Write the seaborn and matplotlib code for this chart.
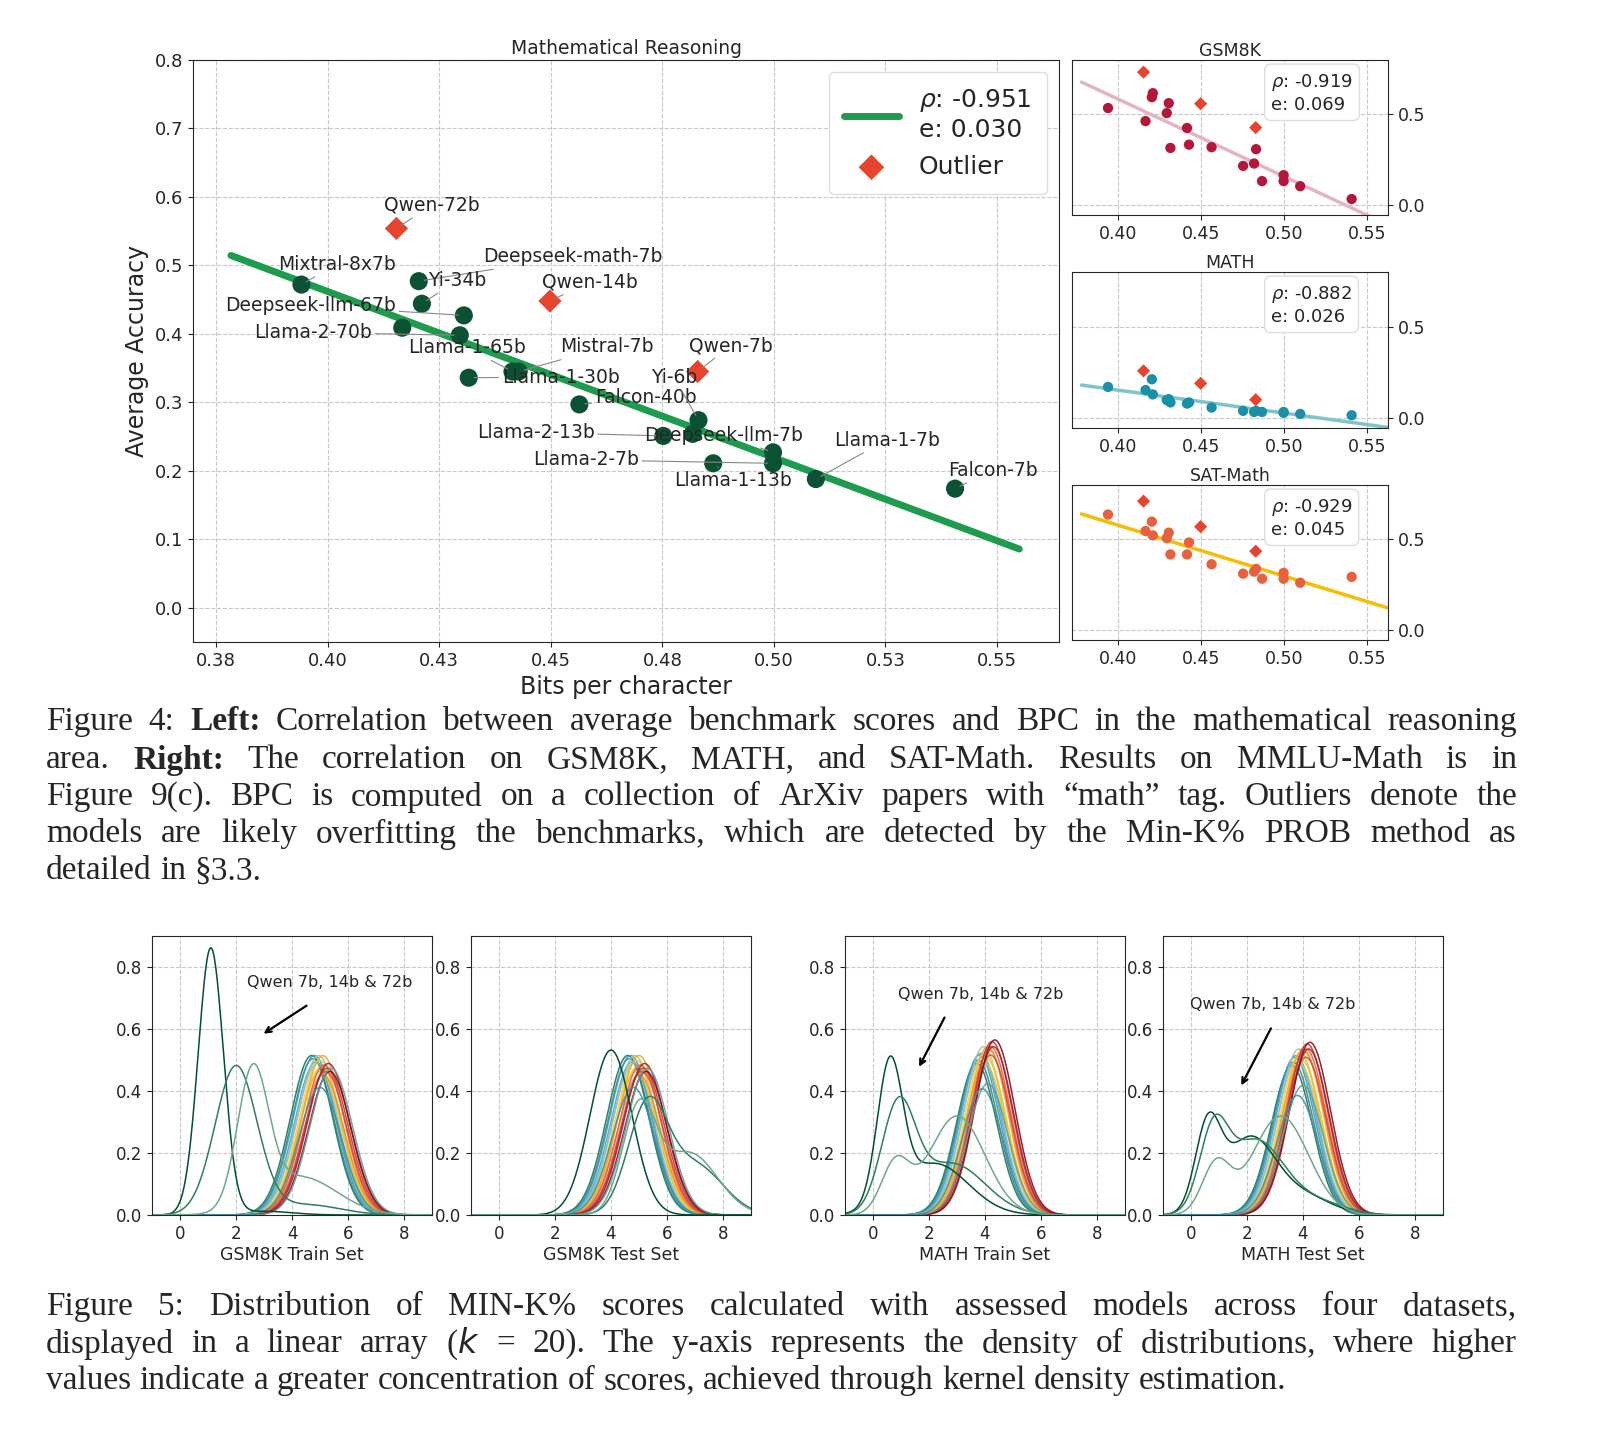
import numpy as np
import pandas as pd
import matplotlib
matplotlib.use('Agg')
import matplotlib.pyplot as plt
import seaborn as sns

sns.set_style('ticks')
plt.rcParams['font.family'] = ['DejaVu Sans']

# ---- main scatter (mathematical reasoning) ----
bpc = [0.3941, 0.4204, 0.4211, 0.4305, 0.4167, 0.4296, 0.4316, 0.4414, 0.4428,
       0.4564, 0.4831, 0.4818, 0.4752, 0.4998, 0.4998, 0.4864, 0.5094, 0.5406]
acc = [0.472, 0.477, 0.444, 0.427, 0.409, 0.398, 0.336, 0.345, 0.345,
       0.297, 0.274, 0.254, 0.251, 0.227, 0.211, 0.211, 0.188, 0.174]
names = ['Mixtral-8x7b', 'Deepseek-math-7b', 'Yi-34b', 'Deepseek-llm-67b', '', 'Llama-2-70b',
         'Llama-1-30b', 'Llama-1-65b', 'Mistral-7b', 'Falcon-40b', 'Yi-6b', '', 'Llama-2-13b',
         'Deepseek-llm-7b', 'Llama-2-7b', 'Llama-1-13b', 'Llama-1-7b', 'Falcon-7b']
label_x = [0.3888, 0.4349, 0.4224, 0.3770, 0, 0.3835, 0.4390, 0.4180, 0.4520,
           0.4599, 0.4724, 0, 0.4334, 0.4710, 0.4460, 0.4776, 0.5134, 0.5390]
label_y = [0.502, 0.513, 0.478, 0.441, 0, 0.402, 0.337, 0.380, 0.381,
           0.307, 0.337, 0, 0.256, 0.252, 0.216, 0.186, 0.245, 0.201]
out_bpc = [0.4154, 0.4498, 0.4829]
out_acc = [0.554, 0.448, 0.345]
out_names = ['Qwen-72b', 'Qwen-14b', 'Qwen-7b']
out_lx = [0.4125, 0.4480, 0.4810]
out_ly = [0.588, 0.476, 0.383]

# ---- right panels ----
sub_bpc = [0.394, 0.4166, 0.4204, 0.421, 0.4306, 0.4294, 0.4316, 0.4416, 0.4428,
           0.4564, 0.4754, 0.482, 0.4832, 0.4868, 0.4998, 0.4998, 0.5098, 0.5408]
sub_out_bpc = [0.4154, 0.4498, 0.483]
gsm_acc = [0.535, 0.463, 0.595, 0.617, 0.562, 0.507, 0.315, 0.425, 0.333,
           0.319, 0.216, 0.229, 0.308, 0.132, 0.165, 0.132, 0.104, 0.033]
gsm_out = [0.733, 0.559, 0.427]
math_acc = [0.170, 0.153, 0.212, 0.129, 0.103, 0.098, 0.085, 0.079, 0.085,
            0.057, 0.039, 0.033, 0.039, 0.033, 0.033, 0.028, 0.022, 0.015]
math_out = [0.258, 0.190, 0.100]
sat_acc = [0.637, 0.546, 0.598, 0.522, 0.537, 0.507, 0.417, 0.417, 0.483,
           0.363, 0.311, 0.322, 0.337, 0.283, 0.315, 0.283, 0.261, 0.293]
sat_out = [0.711, 0.570, 0.435]
sub_titles = ['GSM8K', 'MATH', 'SAT-Math']
sub_rho = ['-0.919', '-0.882', '-0.929']
sub_err = ['0.069', '0.026', '0.045']
sub_dot = ['#b5173a', '#1a8fa8', '#e8613f']
sub_line = ['#e3b5c4', '#7fc4c9', '#f7bd00']

# ---- bottom KDE panels: per curve gaussian components (mean, sd, weight) ----
kde_titles = ['GSM8K Train Set', 'GSM8K Test Set', 'MATH Train Set', 'MATH Test Set']
cluster_means = [
    [4.7, 4.75, 4.8, 4.85, 4.9, 4.95, 5.0, 5.0, 5.05, 5.1, 5.1, 5.15, 5.2, 5.25, 5.3, 5.35, 5.4, 5.0],
    [4.6, 4.65, 4.7, 4.75, 4.8, 4.85, 4.9, 4.9, 4.95, 5.0, 5.0, 5.05, 5.1, 5.15, 5.2, 5.25, 5.3, 4.8],
    [3.7, 3.75, 3.8, 3.85, 3.9, 3.95, 4.0, 4.0, 4.05, 4.1, 4.15, 4.2, 4.2, 4.25, 4.3, 4.35, 4.1, 3.9],
    [3.6, 3.65, 3.7, 3.75, 3.8, 3.85, 3.9, 3.9, 3.95, 4.0, 4.05, 4.1, 4.1, 4.15, 4.2, 4.25, 4.0, 3.8],
]
cluster_sd = [0.76, 0.76, 0.72, 0.73]
cluster_peak_scale = [
    [1.0, 0.98, 1.0, 0.96, 0.95, 1.0, 0.9, 0.97, 0.93, 1.0, 0.88, 0.94, 0.9, 0.92, 0.95, 0.9, 0.92, 0.8],
    [1.0, 0.98, 1.0, 0.96, 0.95, 1.0, 0.9, 0.97, 0.93, 1.0, 0.88, 0.94, 0.9, 0.92, 0.95, 0.9, 0.92, 0.8],
    [0.9, 0.92, 0.95, 0.96, 0.94, 1.0, 0.9, 0.97, 0.93, 1.0, 0.98, 1.0, 0.95, 1.03, 1.0, 1.04, 0.78, 0.75],
    [0.9, 0.92, 0.95, 0.96, 0.94, 1.0, 0.9, 0.97, 0.93, 1.0, 0.98, 1.0, 0.95, 1.03, 1.0, 1.04, 0.78, 0.72],
]
qwen_comps = [
    [[(1.1, 0.45, 0.97), (3.0, 1.0, 0.03)],
     [(2.0, 0.75, 0.9), (4.5, 1.2, 0.1)],
     [(2.6, 0.55, 0.6), (4.3, 1.3, 0.4)]],
    [[(4.0, 0.75, 1.0)],
     [(5.3, 0.7, 0.6), (7.0, 1.0, 0.4)],
     [(5.0, 0.6, 0.5), (6.8, 1.0, 0.5)]],
    [[(0.6, 0.45, 0.5), (2.2, 1.2, 0.5)],
     [(0.9, 0.6, 0.5), (2.8, 1.2, 0.5)],
     [(0.8, 0.5, 0.2), (3.0, 1.0, 0.8)]],
    [[(0.6, 0.45, 0.3), (2.1, 0.9, 0.55), (4.0, 1.0, 0.15)],
     [(0.8, 0.5, 0.3), (2.3, 1.0, 0.6), (4.5, 1.0, 0.1)],
     [(0.9, 0.5, 0.2), (3.2, 1.0, 0.8)]],
]
qwen_colors = ['#00512f', '#2f7f5f', '#6fa88e']
arrow_text_xy = [(2.4, 0.75), None, (0.9, 0.71), (-0.04, 0.68)]
arrow_tail = [(4.6, 0.68), None, (2.6, 0.645), (2.9, 0.61)]
arrow_head = [(2.9, 0.58), None, (1.6, 0.47), (1.75, 0.41)]

cluster_colors = ['#1f6f5c', '#2b8a7e', '#3a9bb0', '#4aa3c8', '#7ab8d0', '#96c2c9',
                  '#d9c64a', '#f0d040', '#f5c023', '#f5a623', '#ee8a35', '#e8613f',
                  '#d94a3a', '#c0392b', '#a8202e', '#8b0a1a', '#5f9ea0', '#3f8fa0']

W, H = 1598, 1446
fig = plt.figure(figsize=(W / 100, H / 100), dpi=100)


def rect(l, t, r, b):
    return [l / W, 1 - b / H, (r - l) / W, (b - t) / H]


# main plot
ax = fig.add_axes(rect(193, 60, 1059, 642))
df = pd.DataFrame({'bpc': bpc, 'acc': acc})
coef = np.polyfit(bpc, acc, 1)
fit_x = np.array([0.3783, 0.5550])
sns.lineplot(x=fit_x, y=np.polyval(coef, fit_x), ax=ax, color='#1e9c4e', lw=5,
             label='$\\rho$: -0.951\ne: 0.030', zorder=2)
sns.scatterplot(data=df, x='bpc', y='acc', ax=ax, color='#0b5234', s=170, edgecolor='none', zorder=3)
sns.scatterplot(x=out_bpc, y=out_acc, ax=ax, color='#e8432d', marker='D', s=140,
                edgecolor='none', label='Outlier', zorder=3)
for n, x0, y0, tx, ty in zip(names + out_names, bpc + out_bpc, acc + out_acc,
                             label_x + out_lx, label_y + out_ly):
    if not n:
        continue
    ax.annotate(n, xy=(x0, y0), xytext=(tx, ty), fontsize=13.5, va='center', ha='left',
                arrowprops=dict(arrowstyle='-', color='#888888', lw=0.8, shrinkA=0, shrinkB=4))
ax.set_xlim(0.3698, 0.5639)
ax.set_ylim(-0.05, 0.8)
ax.set_xticks([0.375, 0.4, 0.425, 0.45, 0.475, 0.5, 0.525, 0.55])
ax.set_xticklabels(['0.38', '0.40', '0.43', '0.45', '0.48', '0.50', '0.53', '0.55'])
ax.set_yticks(np.arange(0, 0.81, 0.1))
ax.tick_params(labelsize=13)
ax.grid(ls='--', color='#c8c8c8', lw=0.8)
ax.set_xlabel('Bits per character', fontsize=17)
ax.set_ylabel('Average Accuracy', fontsize=17)
ax.set_title('Mathematical Reasoning', fontsize=13.5, pad=4)
ax.legend(loc='upper right', fontsize=18, markerscale=1.1, handlelength=2.2,
          borderpad=0.6, framealpha=1, edgecolor='#dddddd')

# right panels
tops = [(60, 215), (272, 428), (485, 640)]
sub_acc = [gsm_acc, math_acc, sat_acc]
sub_out = [gsm_out, math_out, sat_out]
for i in range(3):
    a = fig.add_axes(rect(1072, tops[i][0], 1388, tops[i][1]))
    c = np.polyfit(sub_bpc, sub_acc[i], 1)
    fx = np.array([0.378, 0.5627])
    sns.lineplot(x=fx, y=np.polyval(c, fx), ax=a, color=sub_line[i], lw=2.5, zorder=2)
    sns.scatterplot(x=sub_bpc, y=sub_acc[i], ax=a, color=sub_dot[i], s=55, edgecolor='none', zorder=3)
    sns.scatterplot(x=sub_out_bpc, y=sub_out[i], ax=a, color='#e8432d', marker='D', s=45,
                    edgecolor='none', zorder=3)
    a.set_xlim(0.3723, 0.5627)
    a.set_ylim(-0.055, 0.8)
    a.set_xticks([0.40, 0.45, 0.50, 0.55])
    a.set_xticklabels(['0.40', '0.45', '0.50', '0.55'])
    a.set_yticks([0.0, 0.5])
    a.yaxis.tick_right()
    a.tick_params(labelsize=12.5)
    a.grid(ls='--', color='#c8c8c8', lw=0.8)
    a.set_title(sub_titles[i], fontsize=12.5, pad=3)
    a.text(0.63, 0.92, f'$\\rho$: {sub_rho[i]}\ne: {sub_err[i]}', transform=a.transAxes,
           ha='left', va='top', fontsize=13, multialignment='left',
           bbox=dict(boxstyle='round,pad=0.35', fc='white', ec='#dddddd'))

# bottom KDE panels
grid = np.linspace(-1, 9, 400)


def mix(comps):
    return sum(w * np.exp(-0.5 * ((grid - m) / s) ** 2) / (s * np.sqrt(2 * np.pi)) for m, s, w in comps)


lefts = [152, 471, 845, 1163]
for i in range(4):
    a = fig.add_axes(rect(lefts[i], 936, lefts[i] + 280, 1215))
    for j, m in enumerate(cluster_means[i]):
        y = mix([(m, cluster_sd[i], 1.0)]) * cluster_peak_scale[i][j] * 0.98
        sns.lineplot(x=grid, y=y, ax=a, color=cluster_colors[j], lw=1.1, alpha=0.9)
    for k in range(3):
        sns.lineplot(x=grid, y=mix(qwen_comps[i][k]), ax=a, color=qwen_colors[k], lw=1.1)
    a.set_xlim(-1, 9)
    a.set_ylim(0, 0.9)
    a.set_xticks([0, 2, 4, 6, 8])
    a.set_yticks([0, 0.2, 0.4, 0.6, 0.8])
    a.set_yticklabels(['0.0', '0.2', '0.4', '0.6', '0.8'])
    a.tick_params(labelsize=12)
    a.grid(ls='--', color='#c8c8c8', lw=0.8)
    a.set_ylabel('')
    a.set_xlabel(kde_titles[i], fontsize=12.5, labelpad=2)
    if arrow_text_xy[i]:
        a.text(*arrow_text_xy[i], 'Qwen 7b, 14b & 72b', fontsize=11.5, va='center')
        a.annotate('', xy=arrow_head[i], xytext=arrow_tail[i],
                   arrowprops=dict(arrowstyle='->', color='black', lw=1.6))

# captions (justified)
fig.canvas.draw()
renderer = fig.canvas.get_renderer()
CAP = dict(family='Liberation Serif', fontsize=24)


def cap_line(ypx, tokens, justify=True, x0=46, x1=1517):
    objs = [fig.text(0, 1 - ypx / H, t, fontweight=wt, va='center', ha='left', **CAP) for t, wt in tokens]
    widths = [o.get_window_extent(renderer).width for o in objs]
    space = 0.25 * CAP['fontsize'] * 100 / 72
    gap = (x1 - x0 - sum(widths)) / (len(objs) - 1) if justify else space
    x = x0
    for o, w in zip(objs, widths):
        o.set_x(x / W)
        x += w + gap


def toks(s, bold=()):
    return [(w, 'bold' if w in bold else 'normal') for w in s.split(' ')]


cap_line(722, toks('Figure 4: Left: Correlation between average benchmark scores and BPC in the mathematical reasoning', ('Left:',)))
cap_line(760, toks('area. Right: The correlation on GSM8K, MATH, and SAT-Math. Results on MMLU-Math is in', ('Right:',)))
cap_line(797, toks('Figure 9(c). BPC is computed on a collection of ArXiv papers with \u201cmath\u201d tag. Outliers denote the'))
cap_line(834, toks('models are likely overfitting the benchmarks, which are detected by the Min-K% PROB method as'))
cap_line(871, toks('detailed in \u00a73.3.'), justify=False)
cap_line(1307, toks('Figure 5: Distribution of MIN-K% scores calculated with assessed models across four datasets,'))
cap_line(1344, toks('displayed in a linear array ($k$ = 20). The y-axis represents the density of distributions, where higher'))
cap_line(1381, toks('values indicate a greater concentration of scores, achieved through kernel density estimation.'), justify=False)

fig.savefig('out.png', dpi=100)
